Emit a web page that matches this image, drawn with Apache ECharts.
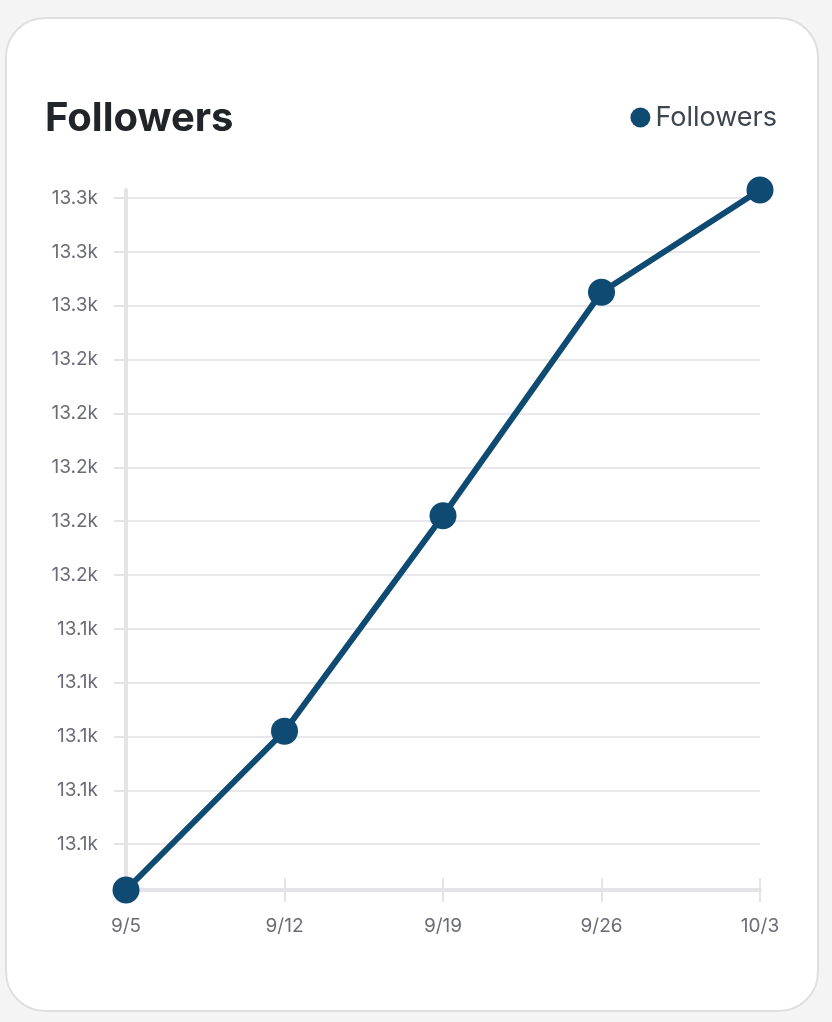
<!DOCTYPE html>
<html>
<head>
<meta charset="utf-8">
<script src="https://cdn.jsdelivr.net/npm/echarts@6/dist/echarts.min.js"></script>
<style>
    html, body { margin: 0; padding: 0; background: #f4f4f5; }
    #card {
        position: absolute; left: 5px; top: 17px; width: 814px; height: 995px;
        background: #fff; border: 2px solid #dedfe1; border-radius: 40px;
        box-sizing: border-box;
    }
    #followersChart { position: absolute; left: 0; top: 0; width: 832px; height: 1022px; }
</style>
</head>
<body>
<div id="card"></div>
<div id="followersChart"></div>
<script>
// 横轴日期
const dates = ['9/5', '9/12', '9/19', '9/26', '10/3'];
// 粉丝数量
const followers = [13043, 13102, 13182, 13265, 13303];

/**
 * 初始化粉丝折线图
 */
function initFollowersChart() {
    let followersChart = echarts.init(document.getElementById('followersChart'));

    let labelFont = 'Inter, "Noto Sans", sans-serif';

    let followersChartOption = {
        backgroundColor: 'transparent',
        title: {
            text: 'Followers',
            left: 40,
            top: 94,
            textStyle: {
                fontFamily: labelFont,
                fontSize: 40,
                fontWeight: 'bold',
                color: '#212529'
            }
        },
        legend: {
            right: 50,
            top: 99,
            icon: 'circle',
            itemWidth: 20,
            itemHeight: 20,
            itemGap: 6,
            textStyle: {
                fontFamily: labelFont,
                fontSize: 27,
                color: '#3d4550'
            },
            data: ['Followers']
        },
        grid: {
            left: 126,
            right: 72,
            top: 190,
            bottom: 132
        },
        xAxis: [
            {
                type: 'category',
                boundaryGap: false,
                data: dates,
                axisLine: { lineStyle: { color: '#e4e4e6', width: 4 } },
                axisTick: { length: 12, lineStyle: { color: '#e4e4e6', width: 2 } },
                axisLabel: {
                    margin: 27,
                    fontFamily: labelFont,
                    fontSize: 19,
                    color: '#6b6b78'
                }
            },
            {
                // 轴线上方的刻度
                type: 'category',
                boundaryGap: false,
                position: 'bottom',
                data: dates,
                axisLine: { show: false },
                axisTick: { inside: true, length: 12, lineStyle: { color: '#e4e4e6', width: 2 } },
                axisLabel: { show: false }
            }
        ],
        yAxis: {
            type: 'value',
            min: 'dataMin',
            max: 'dataMax',
            splitNumber: 13,
            axisLine: { show: true, lineStyle: { color: '#e4e4e6', width: 4 } },
            axisTick: { show: true, length: 12, lineStyle: { color: '#e4e4e6', width: 2 } },
            axisLabel: {
                margin: 28,
                showMinLabel: false,
                showMaxLabel: false,
                fontFamily: labelFont,
                fontSize: 19,
                color: '#6b6b78',
                formatter: function (v) {
                    return (v / 1000).toFixed(1) + 'k';
                }
            },
            splitLine: {
                showMinLine: false,
                showMaxLine: false,
                lineStyle: { color: '#e8e8ea', width: 2 }
            }
        },
        series: [
            {
                name: 'Followers',
                type: 'line',
                data: followers,
                symbol: 'circle',
                symbolSize: 27,
                lineStyle: { color: '#0f4a73', width: 6 },
                itemStyle: { color: '#0f4a73' },
                z: 5
            }
        ]
    };

    followersChart.setOption(followersChartOption);
}

initFollowersChart();
</script>
</body>
</html>
